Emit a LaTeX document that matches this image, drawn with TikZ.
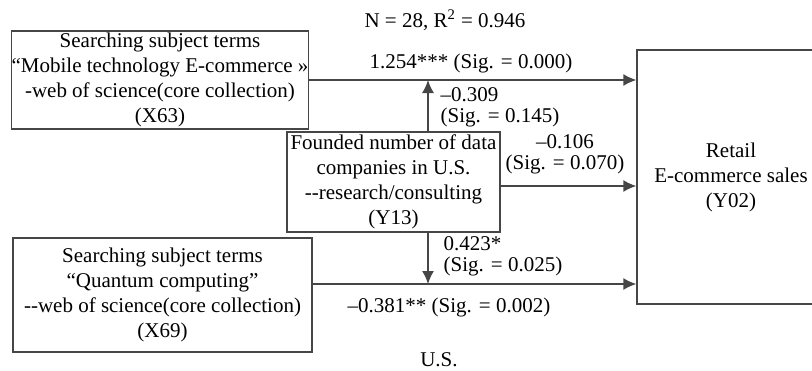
\documentclass[tikz,border=0pt]{standalone}
\usepackage{fontspec}
\setmainfont{Liberation Serif}
\usepackage{tikz}
\usetikzlibrary{arrows.meta, calc, positioning}
\tikzset{next/.style={-{Latex[length=6.5pt, width=6pt]}}}
\tikzset{varbox/.style={rectangle, draw, inner sep=0pt, align=center, font=\fontsize{10.5}{12.5}\selectfont}}
\tikzset{coef/.style={inner sep=0pt, font=\fontsize{10.5}{10.5}\selectfont}}
\definecolor{lineGray}{RGB}{70,70,70}

\begin{document}
\begin{tikzpicture}[x=0.5pt, y=-0.5pt, line width=0.7pt, draw=lineGray]
  \useasboundingbox (0,0) rectangle (812,370);

  % --- variables ---
  \node[varbox, minimum width=147pt, minimum height=49pt] (X63) at (160,80)
    {Searching subject terms\\ “Mobile technology E-commerce »\\ -web of science(core collection)\\ (X63)};
  \node[varbox, minimum width=106.5pt, minimum height=50pt] (Y13) at (393.5,182)
    {Founded number of data\\ companies in U.S.\\ -{}-research/consulting\\ (Y13)};
  \node[varbox, minimum width=149.5pt, minimum height=57pt] (X69) at (162.5,295)
    {Searching subject terms\\ “Quantum computing”\\ -{}-web of science(core collection)\\ (X69)};
  \node[varbox, minimum width=94pt, minimum height=127pt] (Y02) at (731,177)
    {Retail\\ E-commerce sales\\ (Y02)};

  % --- paths ---
  \coordinate (top) at (X63.east);
  \coordinate (mid) at ($(Y13.east)+(0,4)$);
  \coordinate (bot) at ($(X69.east)+(0,-11)$);
  \coordinate (up) at ($(Y13.north)+(34.5,0)$);
  \coordinate (down) at ($(Y13.south)+(34.5,0)$);

  \draw[next] (top) -- (top -| Y02.west);
  \draw[next] (mid) -- (mid -| Y02.west);
  \draw[next] (bot) -- (bot -| Y02.west);
  \draw[next] (up) -- (up |- top);
  \draw[next] (down) -- (down |- bot);

  % --- coefficients ---
  \node[coef] (fit) at (445,20) {N = 28, R\textsuperscript{2} = 0.946};
  \node[coef] (c1) at (471,63) {1.254*** (Sig. = 0.000)};
  \node[coef, align=left, anchor=west] (c2) at (440,107) {–0.309\\ (Sig. = 0.145)};
  \node[coef, align=center] (c3) at (565,154) {–0.106\\ (Sig. = 0.070)};
  \node[coef, align=left, anchor=west] (c4) at (443,256) {0.423*\\ (Sig. = 0.025)};
  \node[coef] (c5) at (449,307) {–0.381** (Sig. = 0.002)};
  \node[coef] (region) at (439,360) {U.S.};
\end{tikzpicture}
\end{document}
